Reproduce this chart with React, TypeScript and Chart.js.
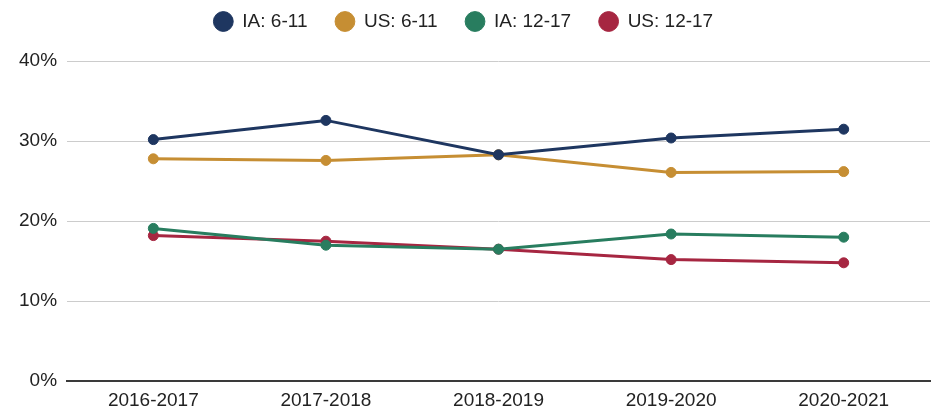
import React, { useEffect, useRef } from "react";
import { Chart, registerables } from "chart.js";

Chart.register(...registerables);

const categories = ["2016-2017", "2017-2018", "2018-2019", "2019-2020", "2020-2021"];
const ia611 = [30.2, 32.6, 28.3, 30.4, 31.5];
const us611 = [27.8, 27.6, 28.3, 26.1, 26.2];
const ia1217 = [19.1, 17.0, 16.5, 18.4, 18.0];
const us1217 = [18.2, 17.5, 16.5, 15.2, 14.8];
const seriesNames = ["IA: 6-11", "US: 6-11", "IA: 12-17", "US: 12-17"];
const seriesColors = ["#1e3660", "#c68e33", "#287d5f", "#a62641"];
const yTicks = [0, 10, 20, 30, 40];

const FONT = "'Liberation Sans', Arial, sans-serif";

const legendShift = {
  id: "legendShift",
  afterLayout(chart: any) {
    const lg = chart.legend;
    if (lg) {
      lg.left -= 6;
      lg.right -= 6;
    }
  },
};

export default function App() {
  const ref = useRef<HTMLCanvasElement | null>(null);
  useEffect(() => {
    if (!ref.current) return;
    const values = [ia611, us611, ia1217, us1217];
    const chart = new Chart(ref.current, {
      type: "line",
      plugins: [legendShift],
      data: {
        labels: categories,
        datasets: values.map((v, i) => ({
          label: seriesNames[i],
          data: v,
          borderColor: seriesColors[i],
          backgroundColor: seriesColors[i],
          pointBackgroundColor: seriesColors[i],
          pointBorderColor: seriesColors[i],
          borderWidth: 3,
          pointRadius: 5,
          pointBorderWidth: 1,
          tension: 0,
        })),
      },
      options: {
        animation: false,
        responsive: true,
        maintainAspectRatio: false,
        layout: { padding: { left: 9, right: 12, top: -16, bottom: -9 } },
        plugins: {
          legend: {
            position: "top",
            labels: {
              usePointStyle: true,
              pointStyle: "circle",
              boxWidth: 20,
              boxHeight: 14,
              padding: 28,
              color: "#222",
              font: { family: FONT, size: 19 },
            },
          },
          title: {
            display: true,
            text: " ",
            position: "top",
            weight: 500,
            font: { size: 1 },
            padding: { top: 12, bottom: 7 },
          },
          tooltip: { enabled: false },
        },
        scales: {
          x: {
            offset: true,
            grid: { display: false, drawTicks: false },
            border: { display: true, color: "#3a3a3a", width: 2 },
            ticks: {
              color: "#222",
              padding: 8,
              font: { family: FONT, size: 19 },
            },
          },
          y: {
            min: 0,
            max: 40,
            afterBuildTicks: (axis: any) => {
              axis.ticks = yTicks.map((v) => ({ value: v }));
            },
            grid: { color: "#cccccc", lineWidth: 1, drawTicks: false },
            border: { display: false },
            ticks: {
              color: "#222",
              padding: 10,
              callback: (v: any) => v + "%",
              font: { family: FONT, size: 19 },
            },
          },
        },
      },
    });
    return () => chart.destroy();
  }, []);
  return (
    <div style={{ position: "absolute", left: 0, top: 0, width: 942, height: 411 }}>
      <canvas ref={ref} />
    </div>
  );
}
